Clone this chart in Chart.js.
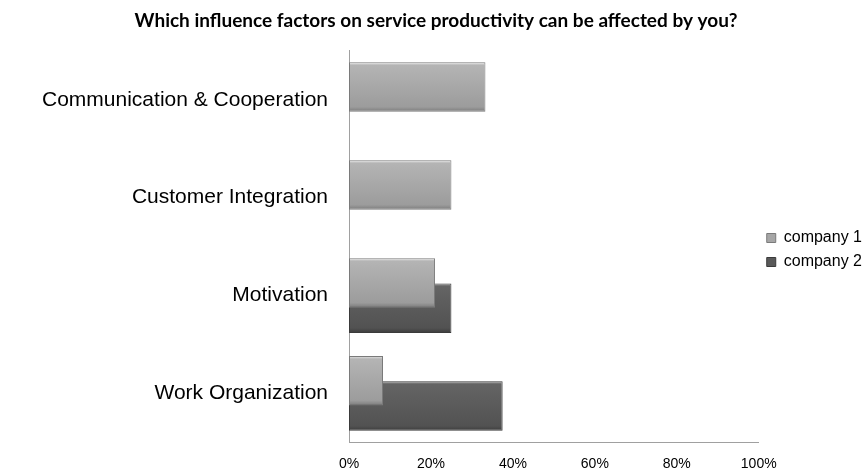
<!DOCTYPE html>
<html>
<head>
<meta charset="utf-8">
<script src="https://cdn.jsdelivr.net/npm/chart.js@4.4.0/dist/chart.umd.min.js"></script>
<style>
  html, body { margin: 0; padding: 0; background: #ffffff; overflow: hidden; }
  #wrap { width: 864px; height: 476px; position: relative; }
  canvas { display: block; }
</style>
</head>
<body>
<div id="wrap"><canvas id="c" width="864" height="476"></canvas></div>
<script>
const titleText = 'Which influence factors on service productivity can be affected by you?';
const categories = ['Communication & Cooperation', 'Customer Integration', 'Motivation', 'Work Organization'];
const seriesNames = ['company 1', 'company 2'];
const company1 = [0.333, 0.25, 0.21, 0.083];
const company2 = [0, 0, 0.25, 0.375];
const tickValues = [0, 0.2, 0.4, 0.6, 0.8, 1.0];

const gradientStops = [
  [[0, '#e8e8e8'], [0.06, '#b4b4b4'], [0.9, '#9c9c9c'], [1, '#7a7a7a']],
  [[0, '#9a9a9a'], [0.06, '#646464'], [0.9, '#525252'], [1, '#3c3c3c']]
];

const bevelPlugin = {
  id: 'bevel',
  beforeDatasetDraw(chart, args) {
    const ctx = chart.ctx;
    const stops = gradientStops[args.index];
    args.meta.data.forEach(el => {
      const top = el.y - el.height / 2;
      const bottom = el.y + el.height / 2;
      const g = ctx.createLinearGradient(0, top, 0, bottom);
      stops.forEach(s => g.addColorStop(s[0], s[1]));
      el.options = Object.assign({}, el.options, { backgroundColor: g });
    });
  }
};

new Chart(document.getElementById('c'), {
  type: 'bar',
  data: {
    labels: categories,
    datasets: [
      { label: seriesNames[0], data: company1, backgroundColor: '#a6a6a6', borderColor: '#7a7a7a' },
      { label: seriesNames[1], data: company2, backgroundColor: '#595959', borderColor: '#3a3a3a' }
    ]
  },
  options: {
    indexAxis: 'y',
    responsive: false,
    animation: false,
    devicePixelRatio: 1,
    categoryPercentage: 0.516,
    barPercentage: 1.96,
    datasets: { bar: { borderWidth: 1, borderSkipped: false } },
    layout: { padding: { left: 0, right: -8, top: 0, bottom: 0 } },
    plugins: {
      title: {
        display: true,
        text: titleText,
        font: { family: 'Lato', weight: 'bold', size: 19 },
        color: '#000000',
        padding: { top: 9, bottom: 19 }
      },
      legend: {
        position: 'right',
        align: 'center',
        title: { display: true, text: ' ', font: { size: 10 }, padding: 6 },
        labels: {
          font: { family: 'Liberation Sans', size: 16 },
          color: '#000000',
          boxWidth: 9,
          boxHeight: 9,
          padding: 8
        }
      },
      tooltip: { enabled: false }
    },
    scales: {
      x: {
        min: 0,
        max: 1,
        afterBuildTicks: (s) => { s.ticks = tickValues.map(v => ({ value: v })); },
        afterFit: (s) => { s.height = 29; },
        ticks: {
          callback: (v) => Math.round(v * 100) + '%',
          font: { family: 'Liberation Sans', size: 14 },
          color: '#000000',
          padding: 13,
          maxRotation: 0
        },
        grid: { display: false, drawTicks: false },
        border: { display: true, color: '#a0a0a0', width: 1 }
      },
      y: {
        afterFit: (s) => { s.width = 349; },
        ticks: {
          font: { family: 'Liberation Sans', size: 21 },
          color: '#000000',
          padding: 21
        },
        grid: { display: false, drawTicks: false },
        border: { display: true, color: '#a0a0a0', width: 1 }
      }
    }
  },
  plugins: [bevelPlugin]
});
</script>
</body>
</html>
